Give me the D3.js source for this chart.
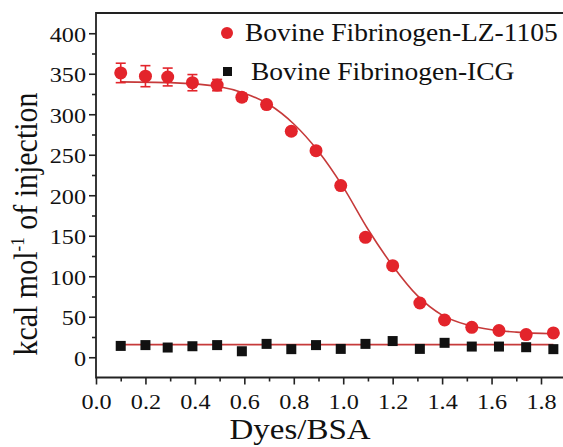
<!DOCTYPE html>
<html>
<head>
<meta charset="utf-8">
<script src="https://cdn.jsdelivr.net/npm/d3@7"></script>
<style>
  body { margin: 0; background: #fff; }
  svg { display: block; }
  text { font-family: "Liberation Serif", "Times New Roman", serif; fill: #111; }
</style>
</head>
<body>
<svg id="chart" width="563" height="447"></svg>
<script>
// dye / BSA ratio of each injection
var ratio = [0.10, 0.20, 0.29, 0.39, 0.49, 0.59, 0.69, 0.79, 0.89, 0.99, 1.09, 1.20, 1.31, 1.41, 1.52, 1.63, 1.74, 1.85];
// Bovine Fibrinogen-LZ-1105 heat and error
var lzHeat = [351, 347, 346, 339, 336, 321, 312, 279, 255, 212, 148, 113, 67, 46, 37, 33, 28, 30];
var lzErr  = [12, 13, 11, 10, 7, 5, 3, 4, 3, 3, 4, 3, 2, 2, 3, 2, 2, 2];
// Bovine Fibrinogen-ICG heat
var icgHeat = [14, 15, 12, 13.6, 15, 7.4, 16.5, 10, 15, 10.3, 16.5, 20, 10.3, 17.8, 13.2, 13.2, 12.4, 10];
// fitted curves
var fitX   = [0.10, 0.30, 0.50, 0.60, 0.70, 0.80, 0.90, 1.00, 1.10, 1.20, 1.30, 1.40, 1.50, 1.60, 1.70, 1.85];
var fitLZ  = [340, 339, 334, 326, 312, 288, 254, 210, 158, 113, 76, 52, 40, 34, 31, 29];
var fitICGx = [0.10, 1.85];
var fitICG  = [15.6, 15.6];
// ticks
var xMajor = [0, 0.2, 0.4, 0.6, 0.8, 1.0, 1.2, 1.4, 1.6, 1.8];
var xMinor = [0.1, 0.3, 0.5, 0.7, 0.9, 1.1, 1.3, 1.5, 1.7];
var yMajor = [0, 50, 100, 150, 200, 250, 300, 350, 400];
var yMinor = [25, 75, 125, 175, 225, 275, 325, 375];
var seriesNames = ["Bovine Fibrinogen-LZ-1105", "Bovine Fibrinogen-ICG"];

var red = "#e3242b";
var lineRed = "#c63a3a";
var stretch = 1.1;

var svg = d3.select("#chart");
var pLeft = 96, pRight = 563, pTop = 13, pBottom = 377.5;

var x = d3.scaleLinear().domain([0, 1.889]).range([pLeft, pRight]);
var y = d3.scaleLinear().domain([-25, 425]).range([pBottom, pTop]);

// frame
svg.append("path")
  .attr("d", "M" + pRight + "," + pTop + "H" + pLeft + "V" + pBottom + "H" + pRight)
  .attr("fill", "none")
  .attr("stroke", "#222")
  .attr("stroke-width", 1.8);

// ticks
var xAxisMajor = d3.axisBottom(x).tickValues(xMajor).tickSize(7).tickSizeOuter(0).tickFormat(d3.format(".1f"));
var gx = svg.append("g").attr("transform", "translate(0," + pBottom + ")").call(xAxisMajor);
var gxm = svg.append("g").attr("transform", "translate(0," + pBottom + ")")
  .call(d3.axisBottom(x).tickValues(xMinor).tickSize(4).tickFormat(""));
var yAxisMajor = d3.axisLeft(y).tickValues(yMajor).tickSize(7).tickSizeOuter(0);
var gy = svg.append("g").attr("transform", "translate(" + pLeft + ",0)").call(yAxisMajor);
var gym = svg.append("g").attr("transform", "translate(" + pLeft + ",0)")
  .call(d3.axisLeft(y).tickValues(yMinor).tickSize(4).tickFormat(""));

[gx, gxm, gy, gym].forEach(function(g) {
  g.select(".domain").remove();
  g.attr("font-size", 22).attr("font-family", null);
  g.selectAll("line").attr("stroke", "#222").attr("stroke-width", 1.6);
});

gx.selectAll("text")
  .attr("y", null).attr("dy", null)
  .attr("transform", "translate(0,31) scale(" + stretch + ",1)")
  .attr("fill", "#111");
gy.selectAll("text")
  .attr("x", null).attr("dy", null)
  .attr("text-anchor", "end")
  .attr("transform", "translate(-10,8) scale(" + stretch + ",1)")
  .attr("fill", "#111");

// axis titles
svg.append("text")
  .attr("transform", "translate(300,439) scale(" + stretch + ",1)")
  .attr("text-anchor", "middle")
  .attr("font-size", 30)
  .text("Dyes/BSA");

var yt = svg.append("text")
  .attr("transform", "translate(37,224) scale(" + stretch + ",1) rotate(-90)")
  .attr("text-anchor", "middle")
  .attr("font-size", 30);
yt.append("tspan").text("kcal mol");
yt.append("tspan").attr("font-size", 17).attr("dy", -12).text("-1");
yt.append("tspan").attr("dy", 12).text(" of injection");

// fit lines
var line = d3.line()
  .x(function(d) { return x(d[0]); })
  .y(function(d) { return y(d[1]); })
  .curve(d3.curveMonotoneX);

svg.append("path")
  .datum(d3.zip(fitICGx, fitICG))
  .attr("d", line)
  .attr("fill", "none")
  .attr("stroke", lineRed)
  .attr("stroke-width", 1.6);

svg.append("path")
  .datum(d3.zip(fitX, fitLZ))
  .attr("d", line)
  .attr("fill", "none")
  .attr("stroke", lineRed)
  .attr("stroke-width", 1.6);

// ICG squares
var sq = 10;
svg.append("g").selectAll("rect")
  .data(d3.zip(ratio, icgHeat)).enter()
  .append("rect")
  .attr("x", function(d) { return x(d[0]) - sq / 2; })
  .attr("y", function(d) { return y(d[1]) - sq / 2; })
  .attr("width", sq)
  .attr("height", sq)
  .attr("fill", "#111");

// LZ-1105 error bars + points
var lz = d3.zip(ratio, lzHeat, lzErr);
var eb = svg.append("g").attr("stroke", red).attr("stroke-width", 1.6);
eb.selectAll("line.v").data(lz).enter()
  .append("line")
  .attr("x1", function(d) { return x(d[0]); })
  .attr("x2", function(d) { return x(d[0]); })
  .attr("y1", function(d) { return y(d[1] + d[2]); })
  .attr("y2", function(d) { return y(d[1] - d[2]); });
[1, -1].forEach(function(s) {
  eb.selectAll("line.c" + s).data(lz).enter()
    .append("line")
    .attr("x1", function(d) { return x(d[0]) - 5; })
    .attr("x2", function(d) { return x(d[0]) + 5; })
    .attr("y1", function(d) { return y(d[1] + s * d[2]); })
    .attr("y2", function(d) { return y(d[1] + s * d[2]); });
});

svg.append("g").selectAll("circle")
  .data(lz).enter()
  .append("circle")
  .attr("cx", function(d) { return x(d[0]); })
  .attr("cy", function(d) { return y(d[1]); })
  .attr("r", 6.5)
  .attr("fill", red);

// legend
svg.append("circle").attr("cx", 227).attr("cy", 33).attr("r", 6).attr("fill", red);
svg.append("rect").attr("x", 223).attr("y", 67).attr("width", 9).attr("height", 9).attr("fill", "#111");
svg.append("text")
  .attr("transform", "translate(245,41) scale(" + stretch + ",1)")
  .attr("font-size", 25)
  .text(seriesNames[0]);
svg.append("text")
  .attr("transform", "translate(251,80) scale(" + stretch + ",1)")
  .attr("font-size", 25)
  .text(seriesNames[1]);
</script>
</body>
</html>
